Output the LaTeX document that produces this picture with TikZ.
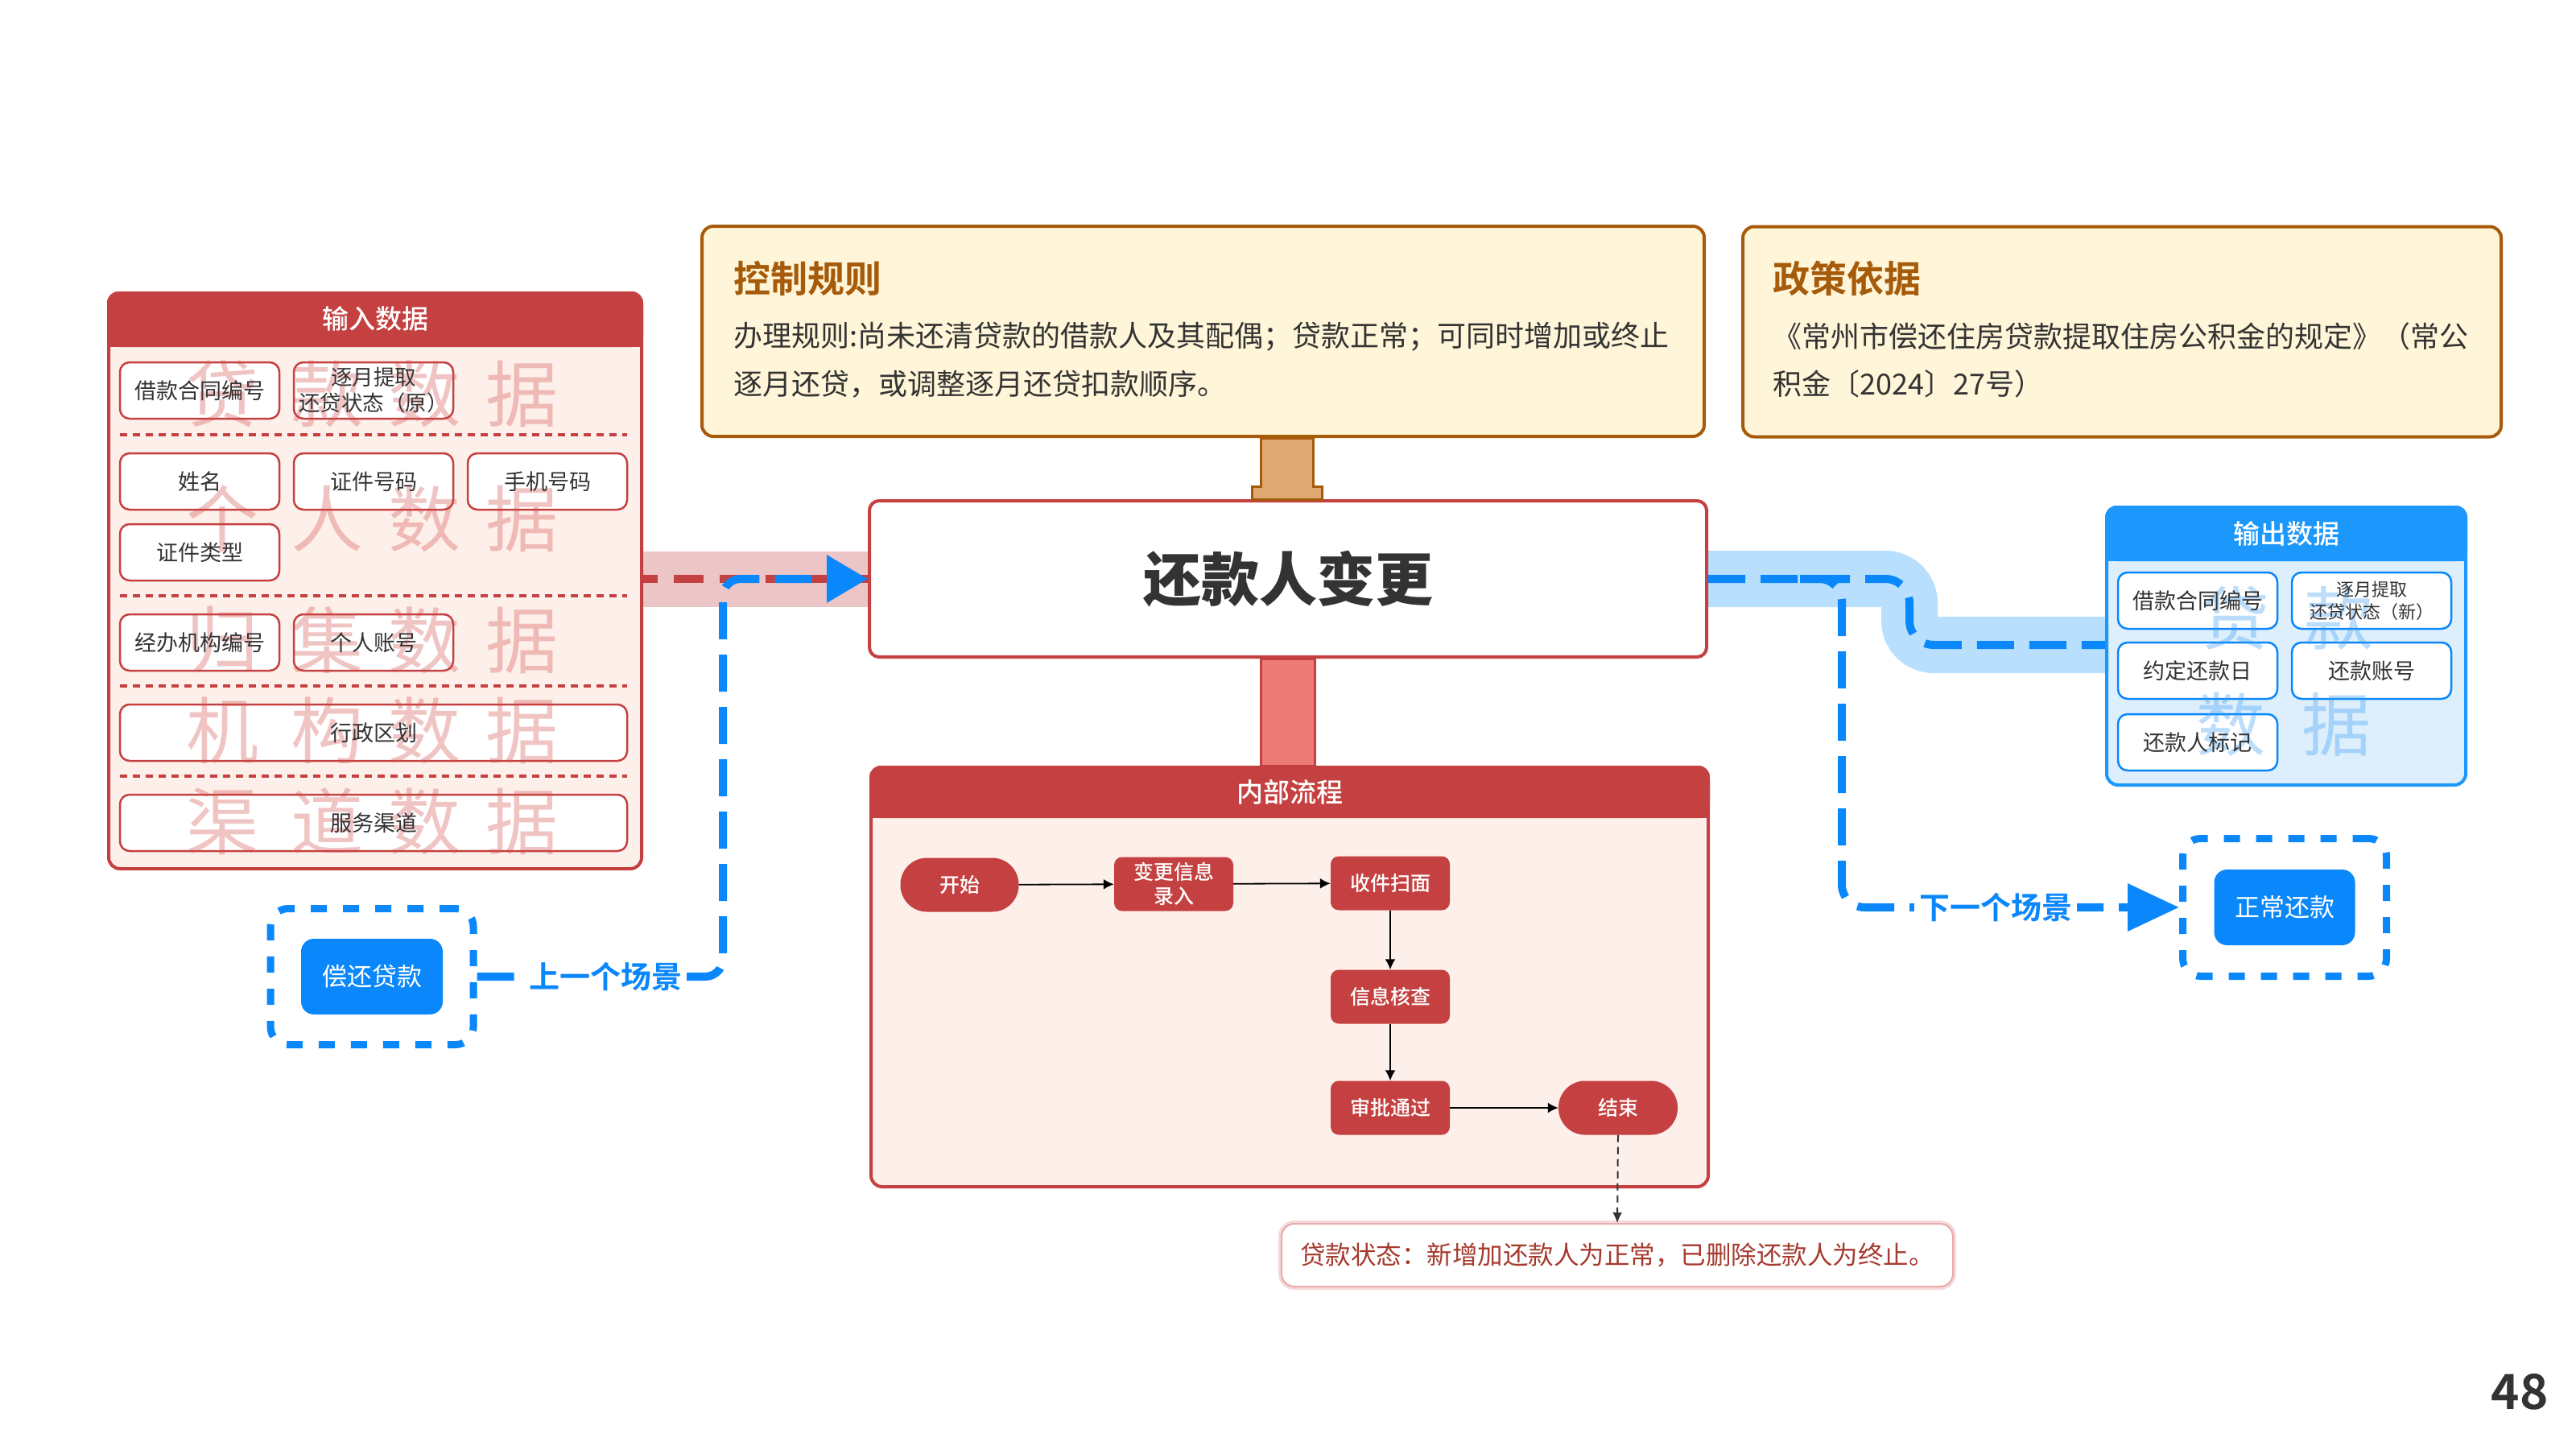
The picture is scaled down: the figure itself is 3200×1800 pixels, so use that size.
\documentclass[tikz,border=0pt]{standalone}
\usepackage{fontspec}
\setmainfont{Noto Sans CJK SC}
\newfontfamily\cjkmed{Noto Sans CJK SC Medium}
\newfontfamily\cjkbold{Noto Sans CJK SC Bold}
\newfontfamily\cjkblack{Noto Sans CJK SC Black}
\usetikzlibrary{arrows.meta,calc}
\definecolor{myred}{HTML}{C54040}
\definecolor{redbg}{HTML}{FDEFE9}
\definecolor{redband}{HTML}{ECC6C6}
\definecolor{redconn}{HTML}{EC7A76}
\definecolor{wmredc}{HTML}{D44A4A}
\definecolor{myblue}{HTML}{0A87FA}
\definecolor{bluehead}{HTML}{1C97FB}
\definecolor{bluebg}{HTML}{DDEEFD}
\definecolor{blueband}{HTML}{B8DFFD}
\definecolor{wmbluec}{HTML}{3DA0F5}
\definecolor{brownc}{HTML}{A65B0B}
\definecolor{creamc}{HTML}{FFF5D8}
\definecolor{tanc}{HTML}{E0A872}
\definecolor{txt}{HTML}{333333}
\definecolor{notetxt}{HTML}{A53A2E}
\definecolor{noteedge}{HTML}{E8AAAA}
\newcommand\fsz[2]{\fontsize{#1}{#2}\selectfont}
\pgfdeclarelayer{background}
\pgfsetlayers{background,main}
\tikzset{
  panelred/.style={draw=myred, line width=4, fill=redbg, rounded corners=14, inner sep=0, anchor=north west},
  panelblue/.style={draw=bluehead, line width=4, fill=bluebg, rounded corners=14, inner sep=0, anchor=north west},
  headtext/.style={text=white, font=\cjkmed\fsz{33}{40}, inner sep=0},
  ibox/.style={draw=myred, line width=2.5, fill=white, rounded corners=12, minimum width=198, minimum height=70, inner sep=0},
  obox/.style={draw=myblue, line width=2.5, fill=white, rounded corners=12, minimum width=198, minimum height=70, inner sep=0},
  boxtext/.style={text=txt, font=\fsz{27}{33}, align=center, inner sep=0},
  smalltext/.style={text=txt, font=\fsz{26.5}{32}, align=center, inner sep=0},
  osmalltext/.style={text=txt, font=\fsz{22}{28}, align=center, inner sep=0},
  wmr/.style={text=wmredc, text opacity=0.32, font=\fsz{90}{90}, inner sep=0},
  wmb/.style={text=wmbluec, text opacity=0.35, font=\fsz{86}{86}, inner sep=0},
  sepline/.style={myred, line width=4, dash pattern=on 9pt off 7pt},
  infobox/.style={draw=brownc, line width=4, fill=creamc, rounded corners=14, inner sep=0},
  infotitle/.style={text=brownc, font=\cjkbold\fsz{46}{52}, anchor=west, inner sep=0},
  infobody/.style={text=txt, font=\fsz{36}{42}, anchor=west, inner sep=0},
  flownode/.style={fill=myred, text=white, font=\cjkmed\fsz{25}{30}, align=center, rounded corners=10, minimum width=148, minimum height=67, inner sep=0},
  stadium/.style={flownode, rounded corners=33},
  flowarr/.style={draw=black, line width=1.8, -{Latex[length=13pt,width=13pt]}},
  notearr/.style={draw=txt, line width=2, dash pattern=on 9pt off 6pt, -{Latex[length=13pt,width=12pt]}},
  scenebox/.style={draw=myblue, line width=9, dash pattern=on 20pt off 20pt, rounded corners=22, minimum width=252, minimum height=169, inner sep=0},
  scenebtn/.style={fill=myblue, text=white, font=\fsz{31}{36}, rounded corners=16, minimum width=176, minimum height=94, inner sep=0},
  bluedash/.style={draw=myblue, line width=10, dash pattern=on 46pt off 19pt},
  scenelabel/.style={fill=white, text=myblue, font=\cjkbold\fsz{38}{44}, inner sep=6},
}
\begin{document}
\begin{tikzpicture}[x=1pt,y=-1pt]
\useasboundingbox (0,0) rectangle (3200,1800);

% ---------------- input panel ----------------
\node[panelred, minimum width=662, minimum height=715] (inpanel) at (133,362) {};
\fill[myred, rounded corners=14] (inpanel.north west) rectangle ($(inpanel.north east)+(0,69)$);
\fill[myred] ($(inpanel.north west)+(0,30)$) rectangle ($(inpanel.north east)+(0,69)$);
\node[headtext] (intitle) at ($(inpanel.north)+(0,34)$) {输入数据};

\node[ibox] (i11) at (248,485) {};
\node[ibox] (i12) at (464,485) {};
\node[ibox] (i21) at (248,598) {};
\node[ibox] (i22) at (464,598) {};
\node[ibox] (i23) at (680,598) {};
\node[ibox] (i31) at (248,686) {};
\node[ibox] (i41) at (248,798) {};
\node[ibox] (i42) at (464,798) {};
\node[ibox, minimum width=630] (i51) at (464,910) {};
\node[ibox, minimum width=630] (i61) at (464,1022) {};
\draw[sepline] (149,540) -- (779,540);
\draw[sepline] (149,740) -- (779,740);
\draw[sepline] (149,852) -- (779,852);
\draw[sepline] (149,964) -- (779,964);

% watermark (input)
\node[wmr] (wa1) at (276,489) {贷};
\node[wmr] (wa2) at (406,489) {款};
\node[wmr] (wa3) at (527,489) {数};
\node[wmr] (wa4) at (648,489) {据};
\node[wmr] (wb1) at (276,644) {个};
\node[wmr] (wb2) at (406,644) {人};
\node[wmr] (wb3) at (527,644) {数};
\node[wmr] (wb4) at (648,644) {据};
\node[wmr] (wc1) at (276,795) {归};
\node[wmr] (wc2) at (406,795) {集};
\node[wmr] (wc3) at (527,795) {数};
\node[wmr] (wc4) at (648,795) {据};
\node[wmr] (wd1) at (276,907) {机};
\node[wmr] (wd2) at (406,907) {构};
\node[wmr] (wd3) at (527,907) {数};
\node[wmr] (wd4) at (648,907) {据};
\node[wmr] (we1) at (276,1020) {渠};
\node[wmr] (we2) at (406,1020) {道};
\node[wmr] (we3) at (527,1020) {数};
\node[wmr] (we4) at (648,1020) {据};

\node[boxtext] (t11) at (i11.center) {借款合同编号};
\node[smalltext] (t12) at (i12.center) {逐月提取\\还贷状态（原）};
\node[boxtext] (t21) at (i21.center) {姓名};
\node[boxtext] (t22) at (i22.center) {证件号码};
\node[boxtext] (t23) at (i23.center) {手机号码};
\node[boxtext] (t31) at (i31.center) {证件类型};
\node[boxtext] (t41) at (i41.center) {经办机构编号};
\node[boxtext] (t42) at (i42.center) {个人账号};
\node[boxtext] (t51) at (i51.center) {行政区划};
\node[boxtext] (t61) at (i61.center) {服务渠道};

% ---------------- info boxes ----------------
\node[infobox, minimum width=1245, minimum height=261] (ctrl) at (1494.5,411.5) {};
\node[infotitle] (ctrltitle) at (911,346) {控制规则};
\node[infobody] (ctrlb1) at (911,418) {办理规则:尚未还清贷款的借款人及其配偶；贷款正常；可同时增加或终止};
\node[infobody] (ctrlb2) at (911,477) {逐月还贷，或调整逐月还贷扣款顺序。};

\node[infobox, minimum width=942, minimum height=261] (policy) at (2636,412) {};
\node[infotitle] (poltitle) at (2202,346) {政策依据};
\node[infobody] (polb1) at (2202,418) {《常州市偿还住房贷款提取住房公积金的规定》（常公};
\node[infobody] (polb2) at (2202,477) {积金〔2024〕27号）};

% ---------------- main node ----------------
\node[draw=myred, line width=4, fill=white, rounded corners=12, minimum width=1040, minimum height=194, inner sep=0, text=txt, font=\cjkblack\fsz{72}{80}] (main) at (1600,719) {还款人变更};

% tan connector (control -> main)
\coordinate (ctrlfoot) at (main.north |- ctrl.south);
\draw[brownc, line width=3, fill=tanc]
  ($(ctrlfoot)+(-34,0)$) -- ($(ctrlfoot)+(31,0)$) -- ($(main.north)+(31,-16)$) -- ($(main.north)+(42,-16)$)
  -- ($(main.north)+(42,0)$) -- ($(main.north)+(-45,0)$) -- ($(main.north)+(-45,-16)$) -- ($(main.north)+(-34,-16)$) -- cycle;

% ---------------- internal process panel ----------------
\node[panelred, minimum width=1040, minimum height=521] (proc) at (1080,951) {};
\fill[myred, rounded corners=14] (proc.north west) rectangle ($(proc.north east)+(0,65)$);
\fill[myred] ($(proc.north west)+(0,30)$) rectangle ($(proc.north east)+(0,65)$);
\node[headtext] (proctitle) at ($(proc.north)+(0,33)$) {内部流程};

% red connector (main -> proc)
\draw[myred, line width=3, fill=redconn] ($(main.south)+(-34,0)$) rectangle ($(proc.north)+(31,0)$);

\node[stadium, minimum width=147] (start) at (1192,1099) {开始};
\node[flownode] (entry) at (1458,1098) {变更信息\\录入};
\node[flownode] (scan) at (1727,1097) {收件扫面};
\node[flownode] (check) at (1727,1238) {信息核查};
\node[flownode] (approve) at (1727,1376) {审批通过};
\node[stadium] (finish) at (2010,1376) {结束};
\draw[flowarr] (start) -- (entry);
\draw[flowarr] (entry) -- (scan);
\draw[flowarr] (scan) -- (check);
\draw[flowarr] (check) -- (approve);
\draw[flowarr] (approve) -- (finish);

% note
\node[draw=noteedge!45, line width=8, rounded corners=16, minimum width=834, minimum height=78, inner sep=0] (noteglow) at (2009,1559) {};
\node[draw=noteedge, line width=2, fill=white, rounded corners=16, minimum width=834, minimum height=78, inner sep=0, text=notetxt, font=\fsz{31.5}{36}] (note) at (2009,1559) {贷款状态：新增加还款人为正常，已删除还款人为终止。};
\draw[notearr] (finish.south) -- (note.north);

% ---------------- output panel ----------------
\node[panelblue, minimum width=446, minimum height=345] (outpanel) at (2615,628) {};
\fill[bluehead, rounded corners=14] (outpanel.north west) rectangle ($(outpanel.north east)+(0,69)$);
\fill[bluehead] ($(outpanel.north west)+(0,30)$) rectangle ($(outpanel.north east)+(0,69)$);
\node[headtext] (outtitle) at ($(outpanel.north)+(0,35)$) {输出数据};
\node[obox] (o11) at (2730,746) {};
\node[obox] (o12) at (2946,746) {};
\node[obox] (o21) at (2730,833) {};
\node[obox] (o22) at (2946,833) {};
\node[obox] (o31) at (2730,922) {};
\node[wmb] (wo1) at (2776,768) {贷};
\node[wmb] (wo2) at (2905,768) {款};
\node[wmb] (wo3) at (2771,900) {数};
\node[wmb] (wo4) at (2902,900) {据};
\node[boxtext] (u11) at (o11.center) {借款合同编号};
\node[osmalltext] (u12) at (o12.center) {逐月提取\\还贷状态（新）};
\node[boxtext] (u21) at (o21.center) {约定还款日};
\node[boxtext] (u22) at (o22.center) {还款账号};
\node[boxtext] (u31) at (o31.center) {还款人标记};

% ---------------- scenes ----------------
\node[scenebox] (prevbox) at (462,1213) {};
\node[scenebtn] (prevbtn) at (462,1213) {偿还贷款};
\node[scenebox, minimum width=253, minimum height=171] (nextbox) at (2838,1127) {};
\node[scenebtn, minimum width=175] (nextbtn) at (2838,1127) {正常还款};

% ---------------- bands (background) ----------------
\begin{pgfonlayer}{background}
  \fill[white] (0,0) rectangle (3200,1800);
  \fill[redband] (inpanel.east |- 0,685) rectangle (main.west |- 0,754);
  \draw[blueband, line width=70, rounded corners=30] (main.east) -- (2372,719) -- (2372,801) -- (outpanel.west |- 0,801);
\end{pgfonlayer}

% red dashed input flow
\draw[myred, line width=10, dash pattern=on 37pt off 20pt, dash phase=19pt] (inpanel.east |- main.west) -- (main.west);

% previous scenario connector
\draw[bluedash, rounded corners=22, -{Triangle[length=51pt,width=57pt]}] (prevbox.east) -- (898,1213) -- (898,719) -- (main.west);
\node[scenelabel] (prevlabel) at (752,1213) {上一个场景};

% output flow
\coordinate (branch) at (2236,719);
\draw[bluedash, rounded corners=30] (main.east) -- (2372,719) -- (2372,801) -- (outpanel.west |- 0,801);
\draw[bluedash, rounded corners=28, -{Triangle[length=64pt,width=57pt]}] (branch) -- (2288,719) -- (2288,1127) -- (nextbox.west);
\node[scenelabel] (nextlabel) at (2479,1127) {下一个场景};

% page number
\node[text=txt, font=\cjkbold\fsz{60}{66}, inner sep=0] (pagenum) at (3130,1729) {48};
\end{tikzpicture}
\end{document}
